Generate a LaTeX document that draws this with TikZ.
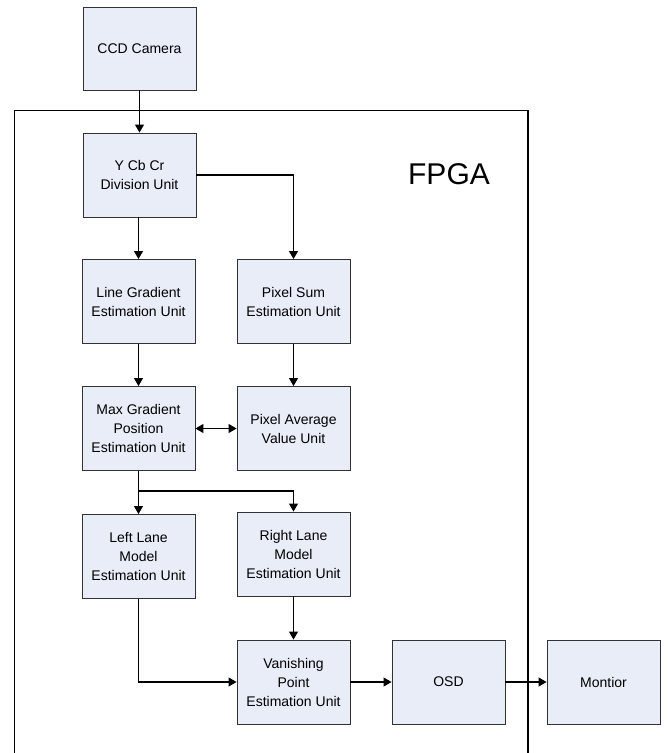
\documentclass[tikz,border=0pt]{standalone}
\usepackage{fontspec}
\setmainfont{Liberation Sans}
\usetikzlibrary{arrows.meta}
\definecolor{boxfill}{RGB}{232,237,247}
\definecolor{boxline}{RGB}{50,50,50}
\tikzset{
  unit/.style={draw=boxline, line width=0.9pt, fill=boxfill, minimum width=113pt, minimum height=84pt, inner sep=0pt, align=center, font=\fontsize{14}{19}\selectfont},
  conn/.style={line width=1.1pt, -{Triangle[length=8pt,width=9pt]}},
  dconn/.style={line width=1.1pt, {Triangle[length=8pt,width=9pt]}-{Triangle[length=8pt,width=9pt]}}
}
\begin{document}
\begin{tikzpicture}[x=1pt,y=-1pt]
\useasboundingbox (0,0) rectangle (668,753);
\draw[line width=1.1pt] (14.5,790) -- (14.5,110.7) -- (528,110.7) -- (528,790);
\node[font=\fontsize{30}{30}\selectfont] (fpga) at (449,174) {FPGA};
\node[unit, minimum height=83pt] (ccd) at (139.5,48.5) {CCD Camera};
\node[unit] (ycc) at (139.5,175) {Y Cb Cr\\Division Unit};
\node[unit] (lg) at (138.5,301.5) {Line Gradient\\Estimation Unit};
\node[unit] (ps) at (293.5,301.5) {Pixel Sum\\Estimation Unit};
\node[unit] (mg) at (138.5,428.5) {Max Gradient\\Position\\Estimation Unit};
\node[unit] (pa) at (293.5,428.5) {Pixel Average\\Value Unit};
\node[unit] (ll) at (138.5,556.5) {Left Lane\\Model\\Estimation Unit};
\node[unit] (rl) at (293.5,554) {Right Lane\\Model\\Estimation Unit};
\node[unit] (vp) at (293.5,682) {Vanishing\\Point\\Estimation Unit};
\node[unit] (osd) at (448.5,682) {OSD};
\node[unit] (mon) at (603.5,682) {Montior};
\coordinate (br) at (138.5,491);
\draw[conn] (ccd) -- (ycc);
\draw[conn] (ycc.east) -| (ps.north);
\draw[conn] (ycc.south -| lg.north) -- (lg);
\draw[conn] (lg) -- (mg);
\draw[conn] (ps) -- (pa);
\draw[dconn] (mg) -- (pa);
\draw[line width=1.1pt] (mg.south) -- (br);
\draw[conn] (br) -- (ll.north);
\draw[conn] (br) -| (rl.north);
\draw[conn] (rl) -- (vp);
\draw[conn] (ll.south) |- (vp.west);
\draw[conn] (vp) -- (osd);
\draw[conn] (osd) -- (mon);
\end{tikzpicture}
\end{document}
